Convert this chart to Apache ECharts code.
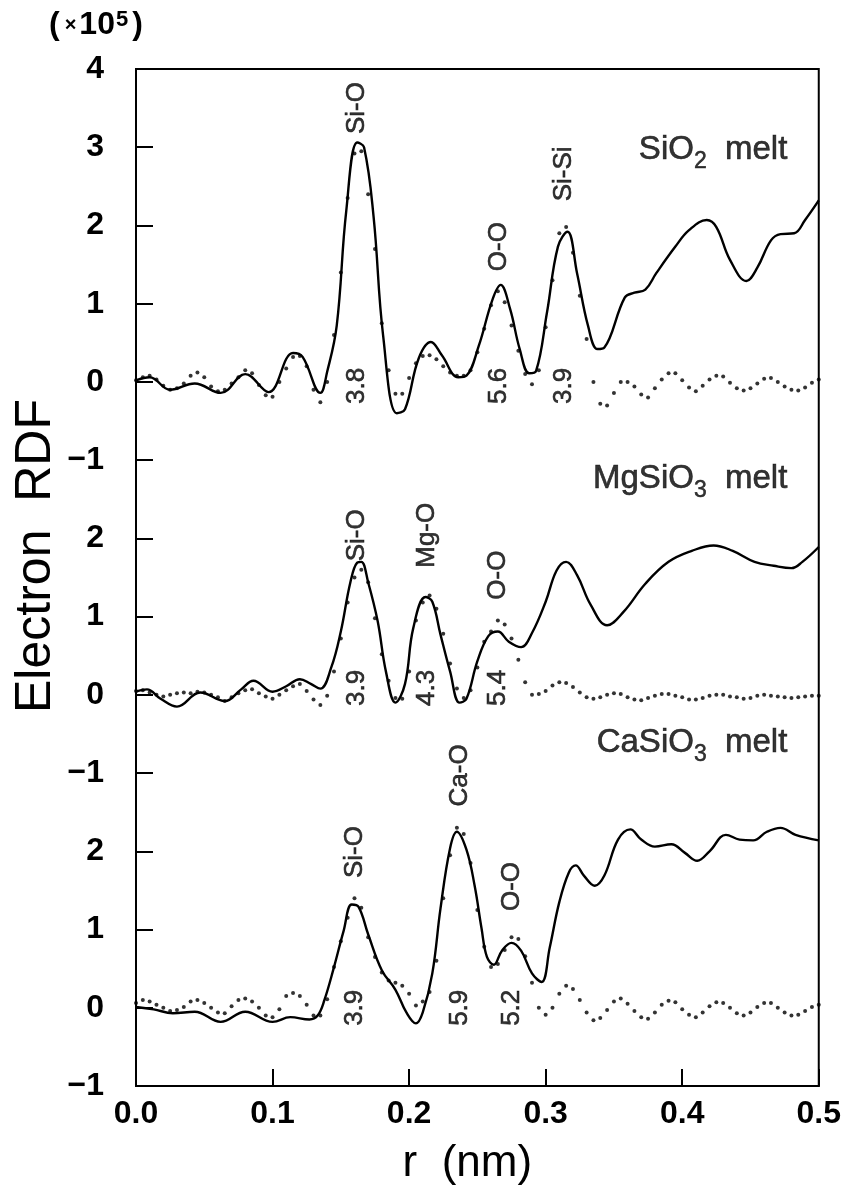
<!DOCTYPE html>
<html>
<head>
<meta charset="utf-8">
<title>Electron RDF of silicate melts</title>
<script src="https://cdn.jsdelivr.net/npm/echarts@6/dist/echarts.min.js"></script>
<style>
    html, body { margin: 0; padding: 0; background: #fff; }
    #chart { width: 844px; height: 1191px; }
</style>
</head>
<body>
<div id="chart"></div>
<script>
// Global y axis runs 0..13; each panel is shifted by its own offset
var yTickLabels = ['\u22121', '0', '1', '2', '\u22121', '0', '1', '2', '\u22121', '0', '1', '2', '3', '4'];
var panelOffset = { si: 9, mg: 5, ca: 1 };

// Sample positions of the dotted (model) curves, nm
var dotR = [
    0.000, 0.005, 0.010, 0.015, 0.020, 0.025, 0.030, 0.035, 0.040, 0.045,
    0.050, 0.055, 0.060, 0.065, 0.070, 0.075, 0.080, 0.085, 0.090, 0.095,
    0.100, 0.105, 0.110, 0.115, 0.120, 0.125, 0.130, 0.135, 0.140, 0.145,
    0.150, 0.155, 0.160, 0.165, 0.170, 0.175, 0.180, 0.185, 0.190, 0.195,
    0.200, 0.205, 0.210, 0.215, 0.220, 0.225, 0.230, 0.235, 0.240, 0.245,
    0.250, 0.255, 0.260, 0.265, 0.270, 0.275, 0.280, 0.285, 0.290, 0.295,
    0.300, 0.305, 0.310, 0.315, 0.320, 0.325, 0.330, 0.335, 0.340, 0.345,
    0.350, 0.355, 0.360, 0.365, 0.370, 0.375, 0.380, 0.385, 0.390, 0.395,
    0.400, 0.405, 0.410, 0.415, 0.420, 0.425, 0.430, 0.435, 0.440, 0.445,
    0.450, 0.455, 0.460, 0.465, 0.470, 0.475, 0.480, 0.485, 0.490, 0.495,
    0.500
];

// SiO2 melt
var siLineR = [0, 0.010, 0.025, 0.043, 0.062, 0.080, 0.097, 0.115, 0.122, 0.135,
    0.140, 0.147, 0.154, 0.162, 0.167, 0.174, 0.181, 0.191, 0.197, 0.207,
    0.216, 0.224, 0.236, 0.242, 0.251, 0.261, 0.267, 0.274, 0.281, 0.288,
    0.293, 0.301, 0.309, 0.316, 0.323, 0.331, 0.338, 0.343, 0.358, 0.365,
    0.373, 0.381, 0.395, 0.405, 0.418, 0.425, 0.435, 0.447, 0.455, 0.465,
    0.472, 0.482, 0.490, 0.500];
var siLineV = [0.02, 0.06, -0.10, -0.02, -0.14, 0.10, -0.13, 0.37, 0.32, -0.14,
    0.13, 0.72, 2.19, 3.06, 3.00, 2.11, 0.59, -0.40, -0.35, 0.30,
    0.51, 0.34, 0.06, 0.08, 0.46, 1.05, 1.24, 0.93, 0.42, 0.11,
    0.14, 0.89, 1.73, 1.92, 1.39, 0.72, 0.42, 0.44, 1.08, 1.14,
    1.18, 1.39, 1.73, 1.94, 2.07, 1.98, 1.56, 1.29, 1.46, 1.81,
    1.89, 1.90, 2.07, 2.32];
var siDotV = [
    0.02, 0.06, 0.08, 0.03, -0.05, -0.10, -0.08, -0.02, 0.08, 0.12,
    0.06, -0.06, -0.12, -0.10, -0.02, 0.06, 0.15, 0.11, -0.04, -0.17,
    -0.19, 0.00, 0.17, 0.32, 0.33, 0.20, -0.10, -0.26, 0.00, 0.60,
    1.40, 2.35, 2.92, 2.95, 2.40, 1.70, 0.75, 0.15, -0.15, -0.15,
    0.05, 0.24, 0.33, 0.34, 0.29, 0.20, 0.12, 0.08, 0.08, 0.15,
    0.38, 0.68, 0.98, 1.16, 1.02, 0.72, 0.40, 0.10, -0.03, 0.15,
    0.70, 1.30, 1.90, 1.98, 1.65, 1.10, 0.55, 0.00, -0.28, -0.30,
    -0.14, 0.00, 0.00, -0.06, -0.16, -0.20, -0.08, 0.03, 0.11, 0.11,
    0.02, -0.07, -0.12, -0.05, 0.03, 0.08, 0.07, -0.01, -0.08, -0.11,
    -0.08, -0.02, 0.04, 0.05, 0.00, -0.06, -0.10, -0.11, -0.07, -0.01,
    0.03
];

// MgSiO3 melt
var mgLineR = [0, 0.008, 0.018, 0.030, 0.047, 0.065, 0.077, 0.086, 0.100, 0.110,
    0.120, 0.128, 0.135, 0.143, 0.150, 0.157, 0.162, 0.165, 0.170, 0.177,
    0.183, 0.190, 0.197, 0.203, 0.212, 0.217, 0.223, 0.230, 0.237, 0.242,
    0.250, 0.258, 0.265, 0.273, 0.282, 0.290, 0.300, 0.308, 0.315, 0.323,
    0.333, 0.345, 0.357, 0.373, 0.390, 0.407, 0.423, 0.437, 0.453, 0.467,
    0.480, 0.488, 0.500];
var mgLineV = [0.04, 0.07, -0.05, -0.15, 0.03, -0.08, 0.07, 0.18, 0.04, 0.11,
    0.20, 0.14, 0.08, 0.35, 0.81, 1.44, 1.69, 1.70, 1.44, 0.94,
    0.30, -0.10, 0.14, 0.85, 1.25, 1.19, 0.77, 0.30, -0.10, -0.05,
    0.43, 0.75, 0.81, 0.68, 0.61, 0.79, 1.19, 1.59, 1.70, 1.53,
    1.15, 0.89, 1.06, 1.42, 1.70, 1.84, 1.91, 1.84, 1.70, 1.65,
    1.62, 1.70, 1.89];
var mgDotV = [
    0.05, 0.06, 0.03, 0.00, -0.02, 0.00, 0.02, 0.03, 0.02, 0.04,
    0.03, 0.00, -0.03, -0.08, -0.03, 0.02, 0.06, 0.07, 0.02, -0.02,
    -0.05, 0.00, 0.06, 0.11, 0.14, 0.05, -0.06, -0.13, -0.01, 0.30,
    0.72, 1.18, 1.50, 1.60, 1.44, 0.98, 0.52, 0.18, -0.04, -0.05,
    0.30, 0.95, 1.18, 1.27, 1.10, 0.78, 0.40, 0.08, -0.04, 0.06,
    0.35, 0.68, 0.81, 0.95, 0.90, 0.72, 0.45, 0.16, 0.00, 0.01,
    0.05, 0.12, 0.16, 0.15, 0.10, 0.03, -0.03, -0.05, -0.03, 0.00,
    0.02, 0.01, -0.03, -0.06, -0.07, -0.04, -0.01, 0.01, 0.01, -0.01,
    -0.03, -0.06, -0.06, -0.04, -0.01, 0.00, 0.00, -0.02, -0.03, -0.05,
    -0.04, -0.01, 0.00, -0.01, -0.02, -0.03, -0.04, -0.03, -0.02, -0.01,
    -0.01
];

// CaSiO3 melt
var caLineR = [0, 0.013, 0.027, 0.043, 0.062, 0.080, 0.100, 0.113, 0.127, 0.133,
    0.138, 0.145, 0.152, 0.158, 0.163, 0.170, 0.180, 0.190, 0.198, 0.205,
    0.210, 0.217, 0.223, 0.230, 0.235, 0.242, 0.248, 0.253, 0.257, 0.262,
    0.268, 0.275, 0.282, 0.290, 0.297, 0.303, 0.310, 0.317, 0.322, 0.328,
    0.336, 0.343, 0.353, 0.362, 0.370, 0.380, 0.392, 0.402, 0.411, 0.420,
    0.432, 0.442, 0.452, 0.462, 0.472, 0.483, 0.500];
var caLineV = [0.01, -0.02, -0.07, -0.05, -0.18, -0.05, -0.18, -0.12, -0.15, -0.10,
    0.10, 0.52, 0.98, 1.32, 1.29, 0.94, 0.48, 0.23, -0.06, -0.20,
    -0.06, 0.44, 1.27, 2.04, 2.25, 2.02, 1.56, 1.02, 0.65, 0.55,
    0.73, 0.83, 0.73, 0.44, 0.33, 0.77, 1.35, 1.73, 1.82, 1.69,
    1.56, 1.69, 2.15, 2.28, 2.15, 2.06, 2.09, 1.98, 1.88, 2.00,
    2.21, 2.15, 2.14, 2.25, 2.30, 2.21, 2.14];
var caDotV = [
    0.06, 0.10, 0.08, 0.04, 0.00, -0.04, -0.03, 0.01, 0.08, 0.10,
    0.06, 0.00, -0.06, -0.07, 0.02, 0.10, 0.12, 0.08, 0.00, -0.10,
    -0.12, -0.02, 0.15, 0.19, 0.15, 0.04, -0.10, -0.10, 0.11, 0.52,
    0.85, 1.15, 1.40, 1.28, 0.90, 0.65, 0.45, 0.35, 0.32, 0.28,
    0.18, 0.03, 0.08, 0.20, 0.60, 1.40, 1.95, 2.30, 2.22, 1.85,
    1.25, 0.78, 0.52, 0.56, 0.74, 0.90, 0.88, 0.66, 0.32, 0.00,
    -0.09, 0.00, 0.18, 0.28, 0.24, 0.10, -0.06, -0.16, -0.13, -0.03,
    0.08, 0.12, 0.05, -0.04, -0.12, -0.14, -0.06, 0.04, 0.09, 0.07,
    -0.02, -0.09, -0.12, -0.06, 0.02, 0.07, 0.06, 0.00, -0.07, -0.10,
    -0.06, 0.01, 0.06, 0.06, 0.00, -0.06, -0.10, -0.09, -0.04, 0.01,
    0.04
];

// Peak annotations: pair name above the peak, coordination number below
var siPeakNames = ['Si-O', 'O-O', 'Si-Si'];
var siPeakR = [0.162, 0.266, 0.313];
var siPeakV = [3.50, 1.73, 2.66];
var siCoord = ['3.8', '5.6', '3.9'];
var siCoordV = [-0.05, -0.05, -0.05];

var mgPeakNames = ['Si-O', 'Mg-O', 'O-O'];
var mgPeakR = [0.162, 0.213, 0.265];
var mgPeakV = [2.04, 2.04, 1.53];
var mgCoord = ['3.9', '4.3', '5.4'];
var mgCoordV = [0.09, 0.09, 0.09];

var caPeakNames = ['Si-O', 'Ca-O', 'O-O'];
var caPeakR = [0.160, 0.237, 0.275];
var caPeakV = [1.99, 2.97, 1.55];
var caCoord = ['3.9', '5.9', '5.2'];
var caCoordV = [0.0, 0.0, 0.0];

// Panel titles (rich text: subscripts)
var panelTitles = ['{a|SiO}{s|2}{a|  melt}', '{a|MgSiO}{s|3}{a|  melt}', '{a|CaSiO}{s|3}{a|  melt}'];
var panelTitleR = [0.477, 0.477, 0.477];
var panelTitleV = [2.92, 2.72, 3.34];

var FONT = "'Liberation Sans', Arial, Helvetica, sans-serif";

function pairs(rs, vs, off) {
    return rs.map(function (r, i) { return [r, vs[i] + off]; });
}

function labelData(rs, vs, names, off) {
    return rs.map(function (r, i) { return { name: names[i], value: [r, vs[i] + off] }; });
}

function lineSeries(rs, vs, off) {
    return {
        type: 'line',
        data: pairs(rs, vs, off),
        smooth: 0.4,
        showSymbol: false,
        silent: true,
        lineStyle: { color: '#000', width: 2.4 },
        z: 3
    };
}

function dotSeries(vs, off) {
    return {
        type: 'scatter',
        data: pairs(dotR, vs, off),
        symbol: 'circle',
        symbolSize: 4,
        silent: true,
        itemStyle: { color: '#000' },
        z: 4
    };
}

function textSeries(rs, vs, names, off) {
    return {
        type: 'scatter',
        data: labelData(rs, vs, names, off),
        symbolSize: 0,
        silent: true,
        label: {
            show: true,
            position: 'inside',
            rotate: 90,
            formatter: '{b}',
            color: '#000',
            fontFamily: FONT,
            fontSize: 26,
            textBorderColor: '#000',
            textBorderWidth: 0.6
        },
        z: 5
    };
}

var chart = echarts.init(document.getElementById('chart'));

chart.setOption({

    animation: false,
    backgroundColor: '#fff',

    textStyle: {
        fontFamily: FONT,
        color: '#000'
    },

    // Unit of the vertical axis
    title: {
        text: '{p|(}{x|\u00d7}{n|10}{e|5}{p|)}',
        left: 44,
        top: 4,
        textStyle: {
            rich: {
                p: { fontFamily: FONT, fontSize: 32, fontWeight: 'bold', color: '#000', verticalAlign: 'bottom' },
                x: { fontFamily: FONT, fontSize: 20, fontWeight: 'bold', color: '#000', verticalAlign: 'bottom', padding: [0, 3, 6, 5] },
                n: { fontFamily: FONT, fontSize: 32, fontWeight: 'bold', color: '#000', verticalAlign: 'bottom' },
                e: { fontFamily: FONT, fontSize: 22, fontWeight: 'bold', color: '#000', verticalAlign: 'top', padding: [0, 4, 0, 1] }
            }
        }
    },

    graphic: [{
        type: 'text',
        x: 36,
        y: 556,
        rotation: Math.PI / 2,
        style: {
            text: 'Electron  RDF',
            fill: '#000',
            font: '50px ' + FONT,
            textAlign: 'center',
            textVerticalAlign: 'middle'
        }
    }],

    grid: {
        left: 136,
        right: 23,
        top: 69,
        bottom: 94,
        show: true,
        borderColor: '#000',
        borderWidth: 2,
        backgroundColor: 'transparent'
    },

    // Horizontal axis
    xAxis: {
        type: 'value',
        min: 0,
        max: 0.5,
        interval: 0.1,
        name: 'r  (nm)',
        nameLocation: 'middle',
        nameGap: 56,
        nameTextStyle: {
            fontFamily: FONT,
            fontSize: 44,
            color: '#000',
            padding: [0, 20, 0, 0]
        },
        axisLine: { lineStyle: { color: '#000', width: 2 } },
        axisTick: { inside: true, length: 17, lineStyle: { color: '#000', width: 2 } },
        axisLabel: {
            margin: 12,
            color: '#000',
            fontFamily: FONT,
            fontSize: 32,
            fontWeight: 'bold',
            formatter: function (v) { return v.toFixed(1); }
        },
        splitLine: { show: false }
    },

    // Vertical axis: three stacked panels share it
    yAxis: {
        type: 'value',
        min: 0,
        max: 13,
        interval: 1,
        axisLine: { lineStyle: { color: '#000', width: 2 } },
        axisTick: { inside: true, length: 17, lineStyle: { color: '#000', width: 2 } },
        axisLabel: {
            margin: 32,
            color: '#000',
            fontFamily: FONT,
            fontSize: 32,
            fontWeight: 'bold',
            formatter: function (v) { return yTickLabels[Math.round(v)]; }
        },
        splitLine: { show: false }
    },

    series: [
        lineSeries(siLineR, siLineV, panelOffset.si),
        dotSeries(siDotV, panelOffset.si),
        lineSeries(mgLineR, mgLineV, panelOffset.mg),
        dotSeries(mgDotV, panelOffset.mg),
        lineSeries(caLineR, caLineV, panelOffset.ca),
        dotSeries(caDotV, panelOffset.ca),

        textSeries(siPeakR, siPeakV, siPeakNames, panelOffset.si),
        textSeries(siPeakR, siCoordV, siCoord, panelOffset.si),
        textSeries(mgPeakR, mgPeakV, mgPeakNames, panelOffset.mg),
        textSeries(mgPeakR, mgCoordV, mgCoord, panelOffset.mg),
        textSeries(caPeakR, caPeakV, caPeakNames, panelOffset.ca),
        textSeries(caPeakR, caCoordV, caCoord, panelOffset.ca),

        // Panel titles, right-aligned to the point
        {
            type: 'scatter',
            symbolSize: 0,
            silent: true,
            data: [
                { name: panelTitles[0], value: [panelTitleR[0], panelTitleV[0] + panelOffset.si] },
                { name: panelTitles[1], value: [panelTitleR[1], panelTitleV[1] + panelOffset.mg] },
                { name: panelTitles[2], value: [panelTitleR[2], panelTitleV[2] + panelOffset.ca] }
            ],
            label: {
                show: true,
                position: 'inside',
                align: 'right',
                formatter: '{b}',
                rich: {
                    a: { fontFamily: FONT, fontSize: 33, color: '#000', textBorderColor: '#000', textBorderWidth: 0.6, verticalAlign: 'bottom', padding: [0, 0, 7, 0] },
                    s: { fontFamily: FONT, fontSize: 23, color: '#000', textBorderColor: '#000', textBorderWidth: 0.5, verticalAlign: 'bottom' }
                }
            },
            z: 5
        }
    ]
});

window.addEventListener('resize', function () {
    chart.resize();
});
</script>
</body>
</html>
